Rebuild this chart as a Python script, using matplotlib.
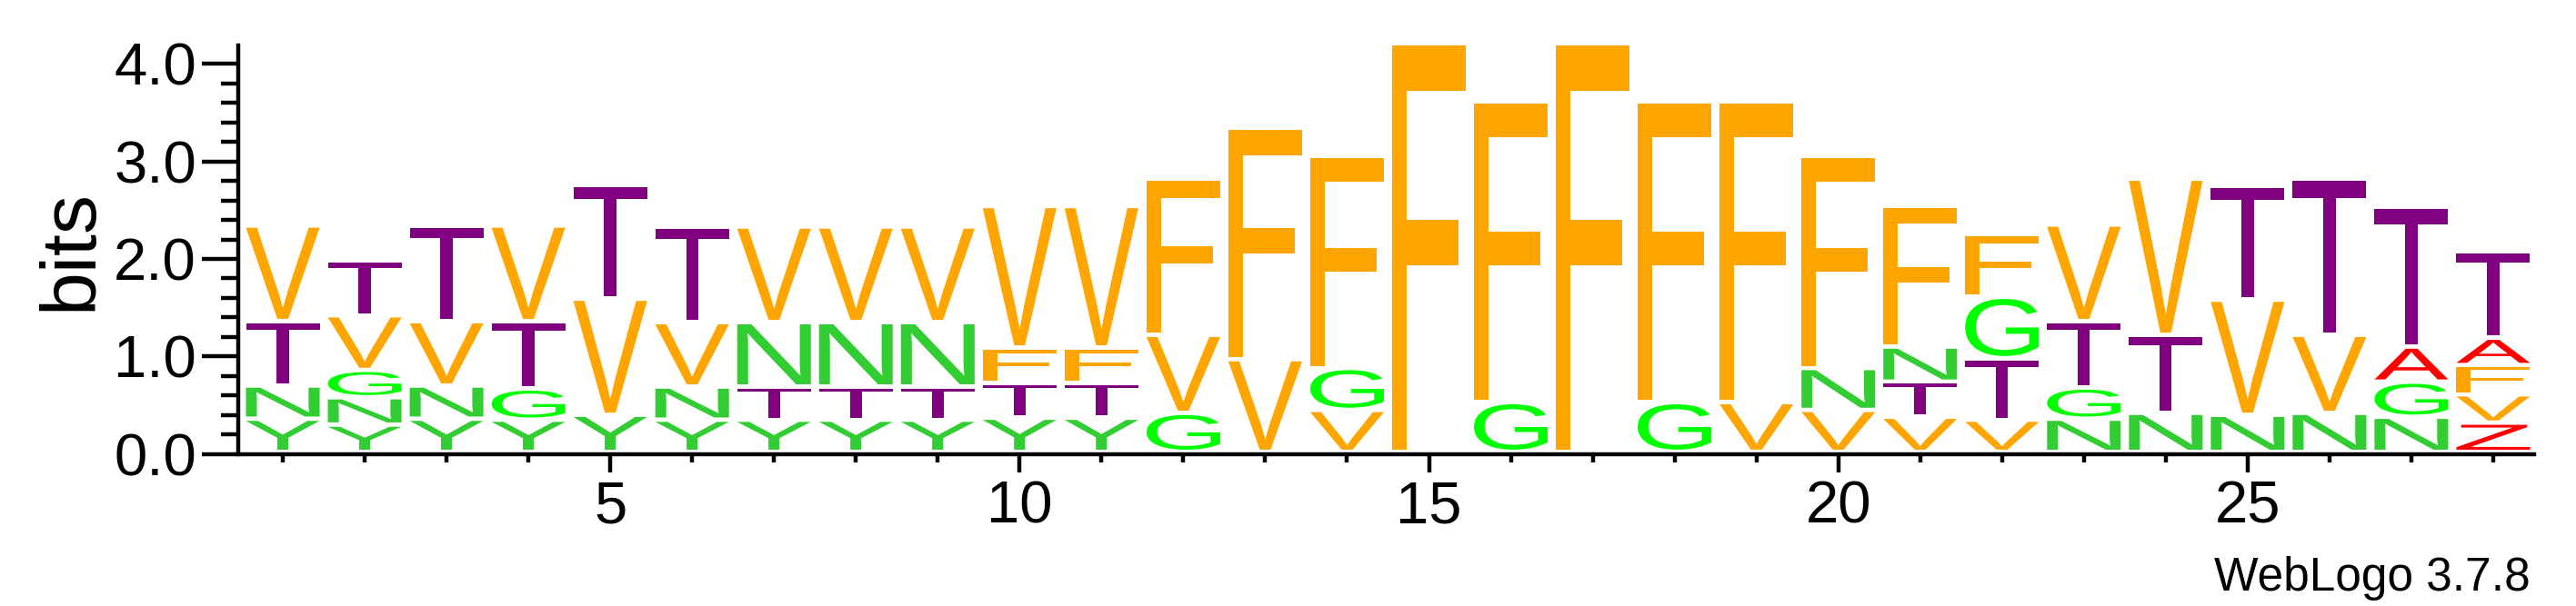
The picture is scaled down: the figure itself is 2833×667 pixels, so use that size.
import numpy as np
import matplotlib
matplotlib.use('Agg')
import matplotlib.pyplot as plt
from matplotlib.textpath import TextPath
from matplotlib.font_manager import FontProperties
from matplotlib.patches import PathPatch
from matplotlib.path import Path
from matplotlib.transforms import Affine2D
from matplotlib.ticker import MultipleLocator, FixedLocator, FormatStrFormatter

# ---------------- data ----------------
positions = list(range(1, 29))

# letters of each stack, bottom -> top
stack_letters = [
    "YNTV", "YNGVT", "YNVT", "YGTV", "YVT", "YNVT", "YTNV", "YTNV", "YTNV",
    "YTFV", "YTFV", "GVF", "VF", "VGF", "F", "GF", "F", "GF", "VF", "VNF",
    "VTNF", "VTGF", "NGTV", "NTV", "NVT", "NVT", "NGAT", "ZVFAT",
]

# heights (bits) of each letter, same order as stack_letters
stack_heights = [
    [0.34, 0.34, 0.66, 0.98],
    [0.28, 0.28, 0.28, 0.56, 0.56],
    [0.34, 0.34, 0.66, 0.98],
    [0.33, 0.32, 0.69, 0.98],
    [0.38, 1.19, 1.17],
    [0.33, 0.34, 0.66, 0.98],
    [0.33, 0.34, 0.66, 0.98],
    [0.33, 0.34, 0.66, 0.98],
    [0.33, 0.34, 0.66, 0.98],
    [0.35, 0.36, 0.36, 1.45],
    [0.35, 0.36, 0.36, 1.45],
    [0.40, 0.80, 1.60],
    [0.95, 2.37],
    [0.43, 0.43, 2.17],
    [4.19],
    [0.51, 3.08],
    [4.19],
    [0.51, 3.08],
    [0.51, 3.08],
    [0.43, 0.43, 2.17],
    [0.36, 0.36, 0.36, 1.44],
    [0.33, 0.63, 0.63, 0.64],
    [0.34, 0.32, 0.68, 0.99],
    [0.40, 0.80, 1.60],
    [0.38, 1.18, 1.17],
    [0.40, 0.80, 1.60],
    [0.36, 0.36, 0.36, 1.43],
    [0.30, 0.29, 0.30, 0.28, 0.885],
]

letter_colors = {
    "F": "#FFA500", "V": "#FFA500",
    "T": "#800080",
    "N": "#32CD32", "Y": "#32CD32",
    "G": "#00FF00",
    "A": "#FF0000", "Z": "#FF0000",
}

y_major_ticks = [0, 1, 2, 3, 4]
x_labeled_ticks = [5, 10, 15, 20, 25]

# ---------------- glyphs ----------------
plt.rcParams['font.family'] = ['Liberation Sans', 'DejaVu Sans']
fp = FontProperties(family='Liberation Sans')


def unit_glyph(ch):
    """Glyph outline normalised to the unit square (ink bbox)."""
    tp = TextPath((0, 0), ch, size=1, prop=fp)
    ext = tp.get_extents()
    v = tp.vertices.copy()
    v[:, 0] = (v[:, 0] - ext.x0) / ext.width
    v[:, 1] = (v[:, 1] - ext.y0) / ext.height
    if ch == 'F':
        # Helvetica-like proportions for F (higher middle bar, slimmer stem)
        for i in range(len(v)):
            xn, yn = v[i]
            if 0.1 < xn < 0.4:
                v[i, 0] = 0.195
            elif 0.8 < xn < 0.99:
                v[i, 0] = 0.902
            if 0.3 < yn < 0.465:
                v[i, 1] = 0.455
            elif 0.465 < yn < 0.7:
                v[i, 1] = 0.568
            elif 0.8 < yn < 0.97:
                v[i, 1] = 0.887
    return Path(v, tp.codes)


glyphs = {ch: unit_glyph(ch) for ch in letter_colors}

# ---------------- figure ----------------
fig = plt.figure(figsize=(28.33, 6.67), dpi=100)
ax = fig.add_axes([266 / 2833, 0.2507, (2787 - 266) / 2833, 0.9253 - 0.2507])

glyph_width = 0.90
gap = 0.045

for pos, letters, heights in zip(positions, stack_letters, stack_heights):
    base = 0.0
    for ch, h in zip(letters, heights):
        tr = (Affine2D().scale(glyph_width, h - gap)
              .translate(pos - glyph_width / 2, base + gap))
        path = tr.transform_path(glyphs[ch])
        ax.add_patch(PathPatch(path, facecolor=letter_colors[ch],
                               edgecolor='none', lw=0))
        base += h

ax.set_xlim(0.5, 28.5)
ax.set_ylim(0, 4.19)

for s in ('top', 'right'):
    ax.spines[s].set_visible(False)
ax.spines['left'].set_linewidth(3.2)
ax.spines['bottom'].set_linewidth(3.2)
ax.spines['left'].set_position(('outward', 3))

ax.yaxis.set_major_locator(FixedLocator(y_major_ticks))
ax.yaxis.set_minor_locator(MultipleLocator(0.2))
ax.yaxis.set_major_formatter(FormatStrFormatter('%.1f'))
ax.xaxis.set_major_locator(FixedLocator(x_labeled_ticks))
ax.xaxis.set_minor_locator(FixedLocator(positions))

ax.tick_params(axis='y', which='major', direction='out', length=29, width=3.2,
               labelsize=47, pad=4)
ax.tick_params(axis='y', which='minor', direction='out', length=14, width=3.2)
ax.tick_params(axis='x', which='major', direction='out', length=14.4, width=3.2,
               labelsize=47, pad=6)
ax.tick_params(axis='x', which='minor', direction='out', length=6.5, width=3.2)

ax.set_ylabel('bits', fontsize=62)
ax.yaxis.set_label_coords(-0.0585, 0.5)

fig.text(0.9822, 0.0255, 'WebLogo 3.7.8', ha='right', va='baseline', fontsize=37)

fig.savefig('out.png', dpi=100, facecolor='white')
